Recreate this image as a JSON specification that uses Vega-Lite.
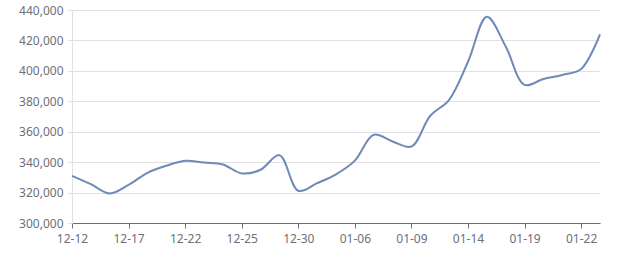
{
  "$schema": "https://vega.github.io/schema/vega-lite/v6.json",
  "width": 528,
  "height": 213,
  "autosize": {"type": "none"},
  "padding": {"left": 72, "top": 10, "right": 40, "bottom": 47},
  "background": "#ffffff",
  "config": {"view": {"stroke": null}},
  "data": {"values": [
    {"date": "12-12", "v": 331000},
    {"date": "12-13", "v": 325500},
    {"date": "12-16", "v": 319400},
    {"date": "12-17", "v": 325000},
    {"date": "12-18", "v": 333000},
    {"date": "12-20", "v": 337600},
    {"date": "12-22", "v": 340900},
    {"date": "12-23", "v": 339700},
    {"date": "12-24", "v": 338500},
    {"date": "12-25", "v": 332600},
    {"date": "12-26", "v": 335000},
    {"date": "12-27", "v": 344600},
    {"date": "12-30", "v": 321200},
    {"date": "12-31", "v": 326200},
    {"date": "01-03", "v": 332000},
    {"date": "01-06", "v": 341000},
    {"date": "01-07", "v": 358000},
    {"date": "01-08", "v": 353600},
    {"date": "01-09", "v": 350300},
    {"date": "01-10", "v": 370500},
    {"date": "01-13", "v": 381000},
    {"date": "01-14", "v": 406000},
    {"date": "01-15", "v": 435600},
    {"date": "01-16", "v": 416000},
    {"date": "01-19", "v": 390800},
    {"date": "01-20", "v": 394700},
    {"date": "01-21", "v": 397300},
    {"date": "01-22", "v": 401200},
    {"date": "01-23", "v": 424000}
  ]},
  "mark": {"type": "line", "interpolate": "catmull-rom", "color": "#6f89b8", "strokeWidth": 2},
  "encoding": {
    "x": {
      "field": "date", "type": "ordinal", "sort": null,
      "scale": {"type": "point", "padding": 0},
      "axis": {
        "title": null, "labelAngle": 0,
        "values": ["12-12", "12-17", "12-22", "12-25", "12-30", "01-06", "01-09", "01-14", "01-19", "01-22"],
        "domainColor": "#6e7079", "tickColor": "#6e7079", "tickSize": 5,
        "labelColor": "#6e7079", "labelFont": "Noto Sans", "labelFontSize": 12, "labelPadding": 5,
        "grid": false
      }
    },
    "y": {
      "field": "v", "type": "quantitative",
      "scale": {"domain": [300000, 440000], "nice": false, "zero": false},
      "axis": {
        "title": null, "format": ",d",
        "values": [300000, 320000, 340000, 360000, 380000, 400000, 420000, 440000],
        "domainColor": "#e0e0e0", "tickColor": "#e0e0e0", "tickSize": 4,
        "gridColor": "#e0e0e6", "grid": true,
        "labelColor": "#6e7079", "labelFont": "Noto Sans", "labelFontSize": 12, "labelPadding": 5
      }
    }
  }
}
